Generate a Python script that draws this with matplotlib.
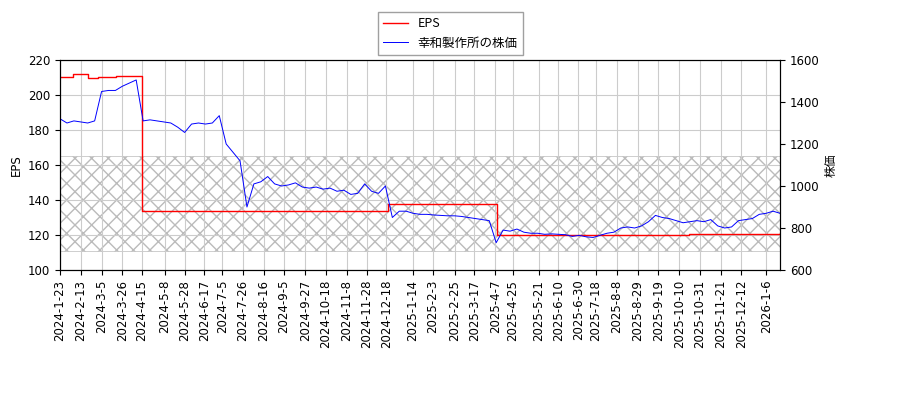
import pandas as pd
import numpy as np
import matplotlib.pyplot as plt

plt.rcParams['font.family'] = ['DejaVu Sans', 'Noto Sans CJK JP']
plt.rcParams['font.size'] = 8.5

# --- DATA ---
price_start = '2024-01-23'
price_vals = [1320, 1300, 1310, 1305, 1300, 1310, 1450, 1455, 1455, 1475, 1490, 1505,
              1310, 1315, 1310, 1305, 1300, 1280, 1255, 1295, 1300, 1295, 1300, 1335,
              1200, 1160, 1120, 900, 1010, 1020, 1045, 1010, 1000, 1005, 1015, 995,
              990, 995, 985, 990, 975, 980, 960, 965, 1010, 975, 965, 1000,
              850, 880, 880, 870, 865, 865, 862, 860, 858, 858, 855, 850,
              845, 840, 835, 730, 790, 785, 795, 780, 775, 775, 770, 772,
              770, 768, 760, 765, 758, 755, 765, 775, 780, 800, 805, 800,
              810, 830, 860, 850, 845, 835, 825, 830, 835, 830, 840, 810,
              800, 805, 835, 840, 845, 865, 870, 880, 870]

eps_dates = ['2024-01-23', '2024-02-05', '2024-02-20', '2024-03-01', '2024-03-20',
             '2024-04-15', '2024-12-20', '2025-04-09', '2025-10-20', '2026-01-20']
eps_vals = [210, 212, 209.5, 210.5, 211, 134, 138, 120, 120.5, 121]

tick_dates = ['2024-01-23', '2024-02-13', '2024-03-05', '2024-03-26', '2024-04-15',
              '2024-05-08', '2024-05-28', '2024-06-17', '2024-07-05', '2024-07-26',
              '2024-08-16', '2024-09-05', '2024-09-27', '2024-10-18', '2024-11-08',
              '2024-11-28', '2024-12-18', '2025-01-14', '2025-02-03', '2025-02-25',
              '2025-03-17', '2025-04-07', '2025-04-25', '2025-05-21', '2025-06-10',
              '2025-06-30', '2025-07-18', '2025-08-08', '2025-08-29', '2025-09-19',
              '2025-10-10', '2025-10-31', '2025-11-21', '2025-12-12', '2026-01-06']

band_low, band_high = 111, 165

# --- PLOT ---
price_dates = pd.date_range(price_start, periods=len(price_vals), freq='7D')
eps_d = pd.to_datetime(eps_dates)

fig = plt.figure(figsize=(9, 4), dpi=100)
ax = fig.add_axes([0.0667, 0.325, 0.8, 0.525])
ax2 = ax.twinx()

l1, = ax.plot(eps_d, eps_vals, color='red', lw=1, drawstyle='steps-post', label='EPS')
l2, = ax2.plot(price_dates, price_vals, color='blue', lw=0.7, label='幸和製作所の株価')

xmin, xmax = pd.Timestamp('2024-01-23'), pd.Timestamp('2026-01-20')
plt.rcParams['hatch.color'] = '#bbbbbb'
ax.fill_between([xmin, xmax], band_low, band_high, facecolor='none',
                edgecolor='#bbbbbb', hatch='xx', lw=0.5)
ax.set_xlim(xmin, xmax)
ax.set_ylim(100, 220)
ax2.set_ylim(600, 1600)
ax.set_yticks(range(100, 221, 20))
ax.grid(True, color='#cccccc')
ax.set_ylabel('EPS')
ax2.set_ylabel('株価', family=['Noto Sans CJK JP'])

ticks = pd.to_datetime(tick_dates)
ax.set_xticks(ticks)
ax.set_xticklabels([f'{t.year}-{t.month}-{t.day}' for t in ticks], rotation=90)

fig.legend([l1, l2], ['EPS', '幸和製作所の株価'], loc='upper center',
           bbox_to_anchor=(0.5, 0.985), fancybox=False, edgecolor='#888888',
           prop={'family': ['Noto Sans CJK JP'], 'size': 9})

fig.savefig('out.png')
